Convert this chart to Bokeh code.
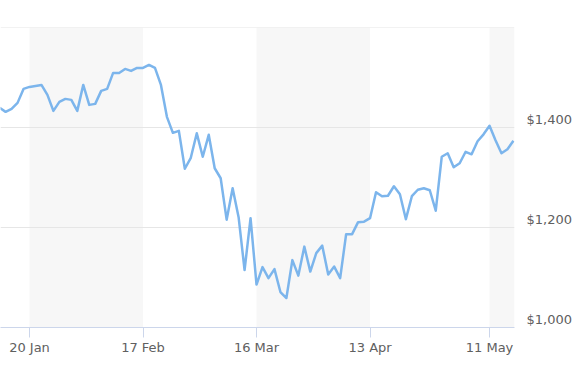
from bokeh.plotting import figure
from bokeh.models import Range1d, LinearAxis, FixedTicker, NumeralTickFormatter, BoxAnnotation
from bokeh.embed import file_html
from bokeh.resources import INLINE

# Price series (one value per trading day, ordinal axis)
prices = [1440, 1432, 1438, 1450, 1478, 1482, 1484, 1486, 1466, 1434,
          1452, 1458, 1456, 1434, 1486, 1446, 1448, 1474, 1478, 1510,
          1510, 1518, 1514, 1520, 1520, 1526, 1520, 1486, 1422, 1390,
          1394, 1318, 1340, 1389, 1342, 1386, 1319, 1299, 1216, 1279,
          1221, 1115, 1219, 1086, 1121, 1099, 1117, 1071, 1059, 1135,
          1104, 1162, 1112, 1149, 1164, 1106, 1122, 1099, 1187, 1187,
          1211, 1212, 1219, 1271, 1263, 1264, 1283, 1267, 1217, 1263,
          1276, 1279, 1275, 1234, 1342, 1349, 1321, 1329, 1352, 1347,
          1373, 1387, 1404, 1375, 1349, 1357, 1374]
day_index = list(range(len(prices)))

tick_labels = ["20 Jan", "17 Feb", "16 Mar", "13 Apr", "11 May"]
tick_index = [5, 24, 43, 62, 82]

y_ticks = [1000, 1200, 1400]
y_grid = [1000, 1200, 1400, 1600]

FONT = "DejaVu Sans"
TXT = "#606060"

p = figure(width=577, height=380, output_backend="svg", toolbar_location=None,
           x_range=Range1d(0.146, 86.18), y_range=Range1d(1000, 1601),
           x_axis_location="below", y_axis_location=None,
           min_border_left=0, min_border_right=63, min_border_top=27, min_border_bottom=53)
p.outline_line_color = None
p.background_fill_color = "white"
p.border_fill_color = "white"

# alternating bands between ticks
for k in range(0, len(tick_index), 2):
    left = tick_index[k]
    right = tick_index[k + 1] if k + 1 < len(tick_index) else None
    p.add_layout(BoxAnnotation(left=left, right=right, fill_color="#f7f7f7", fill_alpha=1.0,
                               line_color=None, level="image"))

p.xgrid.visible = False
p.ygrid.ticker = FixedTicker(ticks=y_grid)
p.ygrid.grid_line_color = "#e6e6e6"
p.ygrid.grid_line_width = 1
p.ygrid.level = "underlay"

p.line(day_index, prices, line_width=2.5, line_color="#7cb5ec", line_join="round")

xa = p.xaxis[0]
xa.ticker = FixedTicker(ticks=tick_index)
xa.major_label_overrides = {t: lab for t, lab in zip(tick_index, tick_labels)}
xa.axis_line_color = "#ccd6eb"
xa.major_tick_line_color = "#ccd6eb"
xa.major_tick_out = 10
xa.major_tick_in = 0
xa.minor_tick_line_color = None
xa.major_label_standoff = 2
xa.major_label_text_font = FONT
xa.major_label_text_font_size = "13px"
xa.major_label_text_color = TXT

# right axis, labels drawn slightly above their grid lines
p.extra_y_ranges = {"labels": Range1d(984, 1585)}
ya = LinearAxis(y_range_name="labels", ticker=FixedTicker(ticks=y_ticks),
                formatter=NumeralTickFormatter(format="$0,0"))
ya.axis_line_color = None
ya.major_tick_line_color = None
ya.minor_tick_line_color = None
ya.major_label_standoff = 6
ya.major_label_text_font = FONT
ya.major_label_text_font_size = "13px"
ya.major_label_text_color = TXT
p.add_layout(ya, "right")

open("out.html", "w").write(file_html(p, INLINE))
